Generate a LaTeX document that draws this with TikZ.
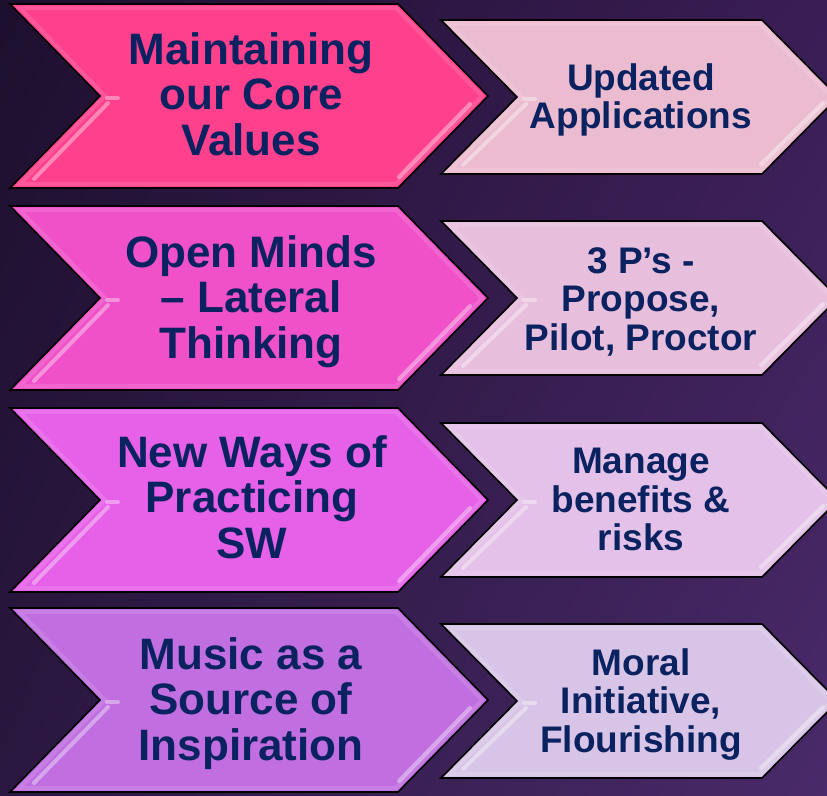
\documentclass[tikz,border=0pt]{standalone}
\usepackage{fontspec}
\setmainfont{Liberation Sans}
\usetikzlibrary{shadings}
\definecolor{bgUL}{HTML}{1D0F2E}
\definecolor{bgUR}{HTML}{3A1D55}
\definecolor{bgLL}{HTML}{2A173F}
\definecolor{bgLR}{HTML}{4A2A6A}
\definecolor{navy}{HTML}{0A2260}
\definecolor{lA}{HTML}{FF408C}
\definecolor{lB}{HTML}{F050C8}
\definecolor{lC}{HTML}{E660E8}
\definecolor{lD}{HTML}{C06EE0}
\definecolor{rA}{HTML}{EBBBD0}
\definecolor{rB}{HTML}{E8BEDD}
\definecolor{rC}{HTML}{E3C1E8}
\definecolor{rD}{HTML}{D8C4E6}
\tikzset{
  chevline/.style={draw=black, line width=1.6pt, line join=miter},
  innerglow/.style={draw=white, draw opacity=0.12, line width=4pt, line join=miter},
  gloss/.style={draw=white, draw opacity=0.38, line width=4pt, line cap=round},
  lefttext/.style={font=\bfseries\fontsize{44}{45.5}\selectfont, text=navy, align=center, anchor=north, inner sep=0pt},
  righttext/.style={font=\bfseries\fontsize{37}{38.5}\selectfont, text=navy, align=center, anchor=north, inner sep=0pt},
}
\newcommand\leftchev[2]{%
  \path[chevline, fill=#2] (10,#1-92) -- (398,#1-92) -- (488,#1) -- (398,#1+92) -- (10,#1+92) -- (100,#1) -- cycle;
  \path[innerglow] (20,#1-88) -- (396,#1-88) -- (482,#1) -- (396,#1+88) -- (20,#1+88) -- (105,#1) -- cycle;
  \path[gloss] (107,#1+2) -- (118,#1+2);
  \path[gloss] (108,#1+7) -- (34,#1+83);
  \path[gloss] (470,#1+8) -- (399,#1+81);
}
\newcommand\rightchev[2]{%
  \path[chevline, fill=#2] (441,#1-77) -- (762,#1-77) -- (838,#1) -- (762,#1+77) -- (441,#1+77) -- (517,#1) -- cycle;
  \path[innerglow] (450,#1-73) -- (760,#1-73) -- (832,#1) -- (760,#1+73) -- (450,#1+73) -- (522,#1) -- cycle;
  \path[gloss] (524,#1+2) -- (535,#1+2);
  \path[gloss] (526,#1+7) -- (463,#1+68);
  \path[gloss] (823,#1+6) -- (761,#1+67);
}
\begin{document}
\begin{tikzpicture}[x=1pt,y=-1pt]
\useasboundingbox (0,0) rectangle (827,795);
\clip (0,0) rectangle (827,795);
\shade[upper left=bgUL, upper right=bgUR, lower left=bgLL, lower right=bgLR] (0,0) rectangle (827,795);
\leftchev{96}{lA}
\leftchev{298}{lB}
\leftchev{500}{lC}
\leftchev{700}{lD}
\rightchev{97}{rA}
\rightchev{298}{rB}
\rightchev{500}{rC}
\rightchev{701}{rD}
\node[lefttext] (l1) at (251,32) {Maintaining\\our Core\\Values};
\node[lefttext] (l2) at (251,235) {Open Minds\\– Lateral\\Thinking};
\node[lefttext] (l3) at (252,435) {New Ways of\\Practicing\\SW};
\node[lefttext] (l4) at (251,637) {Music as a\\Source of\\Inspiration};
\node[righttext] (r1) at (641,63) {Updated\\Applications};
\node[righttext] (r2) at (641,247) {3 P’s -\\Propose,\\Pilot, Proctor};
\node[righttext] (r3) at (641,448) {Manage\\benefits \&\\risks};
\node[righttext] (r4) at (641,648) {Moral\\Initiative,\\Flourishing};
\end{tikzpicture}
\end{document}
